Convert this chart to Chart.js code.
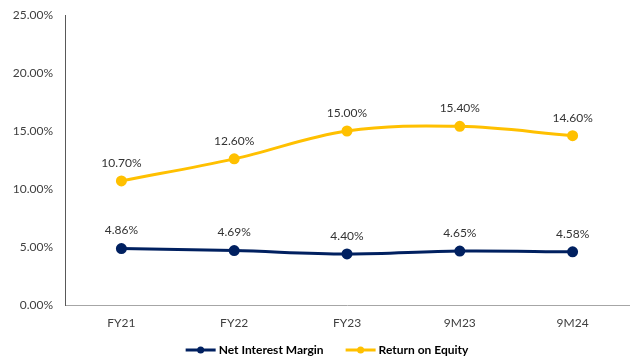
<!DOCTYPE html>
<html><head><meta charset="utf-8">
<script src="https://cdn.jsdelivr.net/npm/chart.js@4"></script>
<style>html,body{margin:0;padding:0;background:#fff}#wrap{width:636px;height:360px}</style>
</head><body><div id="wrap"><canvas id="c" width="636" height="360"></canvas></div>
<script>
const categories = ["FY21", "FY22", "FY23", "9M23", "9M24"];
const netInterestMargin = [4.86, 4.69, 4.40, 4.65, 4.58];
const returnOnEquity = [10.70, 12.60, 15.00, 15.40, 14.60];
const yTicks = [0, 5, 10, 15, 20, 25];

const NAVY = '#002060', GOLD = '#FFC000';
const FONT = "Lato, 'Open Sans', 'Liberation Sans', sans-serif";

const dataLabels = {
  id: 'dataLabels',
  afterDatasetsDraw(chart){
    const ctx = chart.ctx;
    ctx.save();
    ctx.font = "12px " + FONT;
    ctx.fillStyle = '#333333';
    ctx.textAlign = 'center';
    ctx.textBaseline = 'middle';
    chart.data.datasets.forEach((ds, i) => {
      chart.getDatasetMeta(i).data.forEach((pt, j) => {
        ctx.fillText(ds.data[j].toFixed(2) + '%', pt.x, pt.y - 18);
      });
    });
    ctx.restore();
  }
};

const bottomLegend = {
  id: 'bottomLegend',
  afterDraw(chart){
    const ctx = chart.ctx;
    ctx.save();
    ctx.font = "bold 12px " + FONT;
    const lineW = 30, gapText = 3, gapItem = 22;
    const items = chart.data.datasets.map(ds => ({ text: ds.label, color: ds.borderColor, w: ctx.measureText(ds.label).width }));
    const total = items.reduce((a, it) => a + lineW + gapText + it.w, 0) + gapItem * (items.length - 1);
    let x = 327 - total / 2;
    const y = 350;
    items.forEach(it => {
      ctx.strokeStyle = it.color; ctx.lineWidth = 3;
      ctx.beginPath(); ctx.moveTo(x, y); ctx.lineTo(x + lineW, y); ctx.stroke();
      ctx.fillStyle = it.color; ctx.beginPath(); ctx.arc(x + lineW / 2, y, 3.5, 0, Math.PI * 2); ctx.fill();
      ctx.fillStyle = '#000'; ctx.textAlign = 'left'; ctx.textBaseline = 'middle';
      ctx.fillText(it.text, x + lineW + gapText, y);
      x += lineW + gapText + it.w + gapItem;
    });
    ctx.restore();
  }
};

new Chart(document.getElementById('c'), {
  type: 'line',
  data: {
    labels: categories,
    datasets: [
      { label: 'Net Interest Margin', data: netInterestMargin, borderColor: NAVY, backgroundColor: NAVY,
        borderWidth: 3, pointRadius: 4, pointHoverRadius: 4, tension: 0.35 },
      { label: 'Return on Equity', data: returnOnEquity, borderColor: GOLD, backgroundColor: GOLD,
        borderWidth: 3, pointRadius: 4, pointHoverRadius: 4, tension: 0.35 }
    ]
  },
  options: {
    responsive: false,
    animation: false,
    layout: { padding: { top: 15, right: 6, left: 0, bottom: 31 } },
    plugins: {
      tooltip: { enabled: false },
      legend: { display: false }
    },
    scales: {
      x: {
        offset: true,
        grid: { display: false, drawTicks: false },
        border: { color: '#A6A6A6', width: 1 },
        ticks: { color: '#404040', font: { family: FONT, size: 12 }, padding: 11 },
        afterFit(s){ s.height = 24; }
      },
      y: {
        min: 0, max: 25,
        grid: { display: false, drawTicks: false },
        border: { color: '#595959', width: 1 },
        afterBuildTicks(s){ s.ticks = yTicks.map(v => ({ value: v })); },
        ticks: { color: '#404040', font: { family: FONT, size: 12 }, padding: 12,
          callback: v => v.toFixed(2) + '%' },
        afterFit(s){ s.width = 65; s.paddingTop = 0; s.paddingBottom = 0; }
      }
    }
  },
  plugins: [dataLabels, bottomLegend]
});
</script></body></html>
